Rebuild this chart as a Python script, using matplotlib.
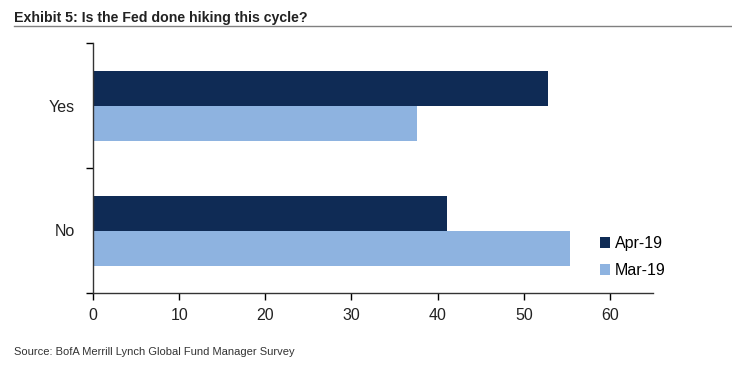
import matplotlib
matplotlib.use("Agg")
import matplotlib.pyplot as plt
import numpy as np

plt.rcParams['font.family'] = ['Liberation Sans', 'DejaVu Sans']

categories = ["No", "Yes"]
apr19 = [41.1, 52.8]
mar19 = [55.4, 37.6]
series_names = ["Apr-19", "Mar-19"]
xticks = [0, 10, 20, 30, 40, 50, 60]

c_apr = "#0f2b55"
c_mar = "#8eb3e0"

fig = plt.figure(figsize=(7.32, 3.73), dpi=100)
ax = fig.add_axes([93/732, 80/373, 560/732, 250/373])

y = np.arange(len(categories))
h = 0.28
ax.barh(y + h/2, apr19, height=h, color=c_apr, label=series_names[0])
ax.barh(y - h/2, mar19, height=h, color=c_mar, label=series_names[1])

ax.set_ylim(-0.5, 1.5)
ax.set_xlim(0, 65)
ax.set_xticks(xticks)
ax.set_xticklabels([str(v) for v in xticks], fontsize=11.5, color="#222222")
ax.set_yticks([-0.5, 0.5, 1.5])
ax.set_yticklabels([])
ax.set_yticks(y, minor=True)
ax.set_yticklabels(categories, minor=True, fontsize=11.5, color="#222222")
ax.tick_params(axis='y', which='minor', length=0, pad=13)
ax.tick_params(axis='y', which='major', length=5, direction='out', width=1)
ax.tick_params(axis='x', length=5, direction='out', width=1, pad=6)
for s in ['top', 'right']:
    ax.spines[s].set_visible(False)
for s in ['left', 'bottom']:
    ax.spines[s].set_color("#333333")
    ax.spines[s].set_linewidth(1)

leg = ax.legend(loc='upper left', bbox_to_anchor=(600/732, 1 - 236/373),
                bbox_transform=fig.transFigure, frameon=False, borderpad=0,
                borderaxespad=0, fontsize=11.5, handlelength=0.65, handleheight=0.65,
                handletextpad=0.3, labelspacing=0.75)

fig.text(14/732, 1 - 18/373, "Exhibit 5: Is the Fed done hiking this cycle?",
         fontsize=10.2, fontweight='bold', va='center', ha='left', color="#222222")
fig.add_artist(plt.Line2D([14/732, 1.0], [1 - 26/373, 1 - 26/373],
                          color="#808080", linewidth=1))
fig.text(14/732, 1 - 352/373, "Source: BofA Merrill Lynch Global Fund Manager Survey",
         fontsize=8, va='center', ha='left', color="#333333")

fig.savefig("out.png", dpi=100)
